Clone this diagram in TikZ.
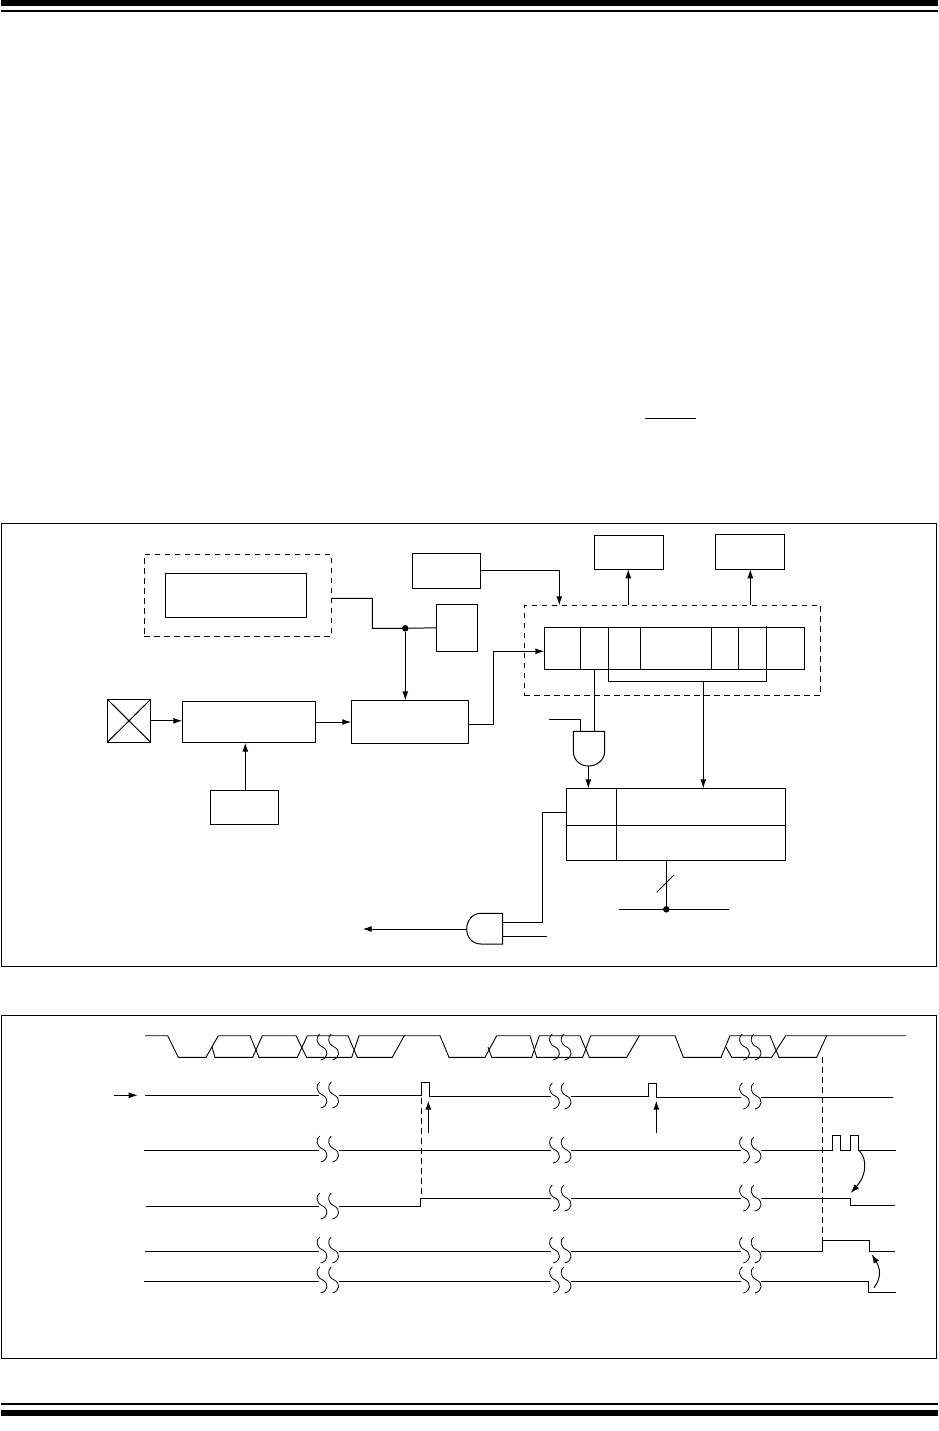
\documentclass[tikz,border=0pt]{standalone}
\usepackage{tikz}
\usepackage{xcolor}
\usetikzlibrary{calc,arrows.meta,positioning}
\tikzset{
  blockbox/.style 2 args={draw,line width=1pt,inner sep=0pt,outer sep=0pt,minimum width=#1,minimum height=#2},
  longdash/.style={dash pattern=on 5.5pt off 4.5pt},
  sig/.style={line width=1pt},
  sigarrow/.style={line width=1pt,-{Latex[length=9pt,width=6pt]}},
  junction/.style={circle,fill=black,inner sep=0pt,outer sep=0pt,minimum size=6.5pt},
  wave/.style={line width=.9pt,line join=miter},
  cutline/.style={line width=.8pt},
  bar/.style={fill=black,draw=none}
}
\newcommand{\wavecut}[2]{\draw[cutline] (#1-8.8,#2-13) .. controls (#1-12.8,#2-10) and (#1-12.8,#2-3) .. (#1-5.8,#2) .. controls (#1+.2,#2+3) and (#1+.2,#2+11) .. (#1-7.8,#2+13);
\draw[cutline] (#1+2.8,#2-13) .. controls (#1-1.2,#2-10) and (#1-1.2,#2-3) .. (#1+5.8,#2) .. controls (#1+11.8,#2+3) and (#1+11.8,#2+11) .. (#1+3.8,#2+13);}
\newcommand{\wavegap}[2]{\fill[white] (#1-10,#2-4) rectangle (#1+10,#2+4);\wavecut{#1}{#2}}
\def\wavehi{1035.7}
\def\wavelo{1057.3}
\begin{document}
\begin{tikzpicture}[x=1pt,y=-1pt]
\useasboundingbox (0,0) rectangle (938,1431);
\fill[bar] (1,0) rectangle (938,6);
\fill[bar] (1,9.7) rectangle (938,12);
\fill[bar] (1,1403) rectangle (938,1405);
\fill[bar] (1,1410) rectangle (938,1416);
\draw[line width=1pt] (645,418) -- (696,418);
\draw[line width=1pt] (1.5,523) rectangle (936.5,966);
\draw[line width=1pt] (1.5,1015) rectangle (936.5,1358);

\node[blockbox={187pt}{82pt},longdash] (osczone) at (237.8,595.3) {};
\node[blockbox={141.4pt}{44pt}] (oscbox) at (236,595.3) {};
\node[blockbox={68.4pt}{35pt}] (selbox) at (446.5,570.8) {};
\node[blockbox={41.4pt}{47pt}] (tapbox) at (457,627.8) {};
\node[blockbox={43.4pt}{43pt}] (pinbox) at (129,720.8) {};
\node[blockbox={133pt}{40.6pt}] (scalebox) at (248.8,722) {};
\node[blockbox={117.4pt}{43pt}] (syncbox) at (410,721.8) {};
\node[blockbox={68pt}{34pt}] (ctlbox) at (244.3,807.3) {};
\node[blockbox={69pt}{34pt}] (outboxa) at (628.8,552.3) {};
\node[blockbox={69pt}{35pt}] (outboxb) at (749.8,551.8) {};
\node[blockbox={296.4pt}{90pt},longdash] (regzone) at (672.5,650.3) {};
\node[blockbox={260.4pt}{42pt}] (regbox) at (674.5,648.3) {};
\node[blockbox={219.4pt}{72pt}] (latchbox) at (676,824.3) {};
\node[junction] (tapdot) at (405.3,628.3) {};
\node[junction] (busdot) at (666.3,909.3) {};

\draw[line width=1pt] (pinbox.north west) -- (pinbox.south east);
\draw[line width=1pt] (pinbox.south west) -- (pinbox.north east);
\draw[sig] (580.3,627.3) -- (580.3,669.3);
\draw[sig] (608.3,627.3) -- (608.3,669.3);
\draw[sig] (640.3,627.3) -- (640.3,669.3);
\draw[sig] (711.3,627.3) -- (711.3,669.3);
\draw[sig] (738.3,627.3) -- (738.3,669.3);
\draw[sig] (766.3,625.7) -- (766.3,669.3);
\draw[sig] (566.3,825.3) -- (785.7,825.3);
\draw[sig] (616.3,788.3) -- (616.3,860.3);

\coordinate (dashout) at (331.3,598.3);
\coordinate (regtap) at (594.3,669.3);
\coordinate (bracket) at (703.3,681.3);
\coordinate (andtopa) at (594.3,731.3);
\coordinate (andina) at (580.3,731.3);
\coordinate (andouta) at (588.3,766);
\coordinate (andoutb) at (466.7,929);
\coordinate (freeout) at (362.7,929);
\coordinate (freeina) at (549,719.3);
\coordinate (freeinb) at (546.7,936.3);
\coordinate (andinb) at (502.7,936.3);
\coordinate (andinc) at (502.7,922.3);
\coordinate (busleft) at (619,909.3);
\coordinate (busright) at (729,909.3);

\draw[sig] (dashout) -- (372.3,598.3) -- (372.3,628.3) -- (tapdot) -- (tapbox.west);
\draw[sigarrow] (tapdot) -- (405.3,700.3);
\draw[sigarrow] (pinbox.east) -- (pinbox.east -| scalebox.west);
\draw[sigarrow] (scalebox.east) -- (scalebox.east -| syncbox.west);
\draw[sigarrow] (ctlbox.north) ++(1,0) -- ++(0,-47.6);
\draw[sigarrow] (syncbox.east) ++(0,2.5) -| (493.3,651.3) -- (regbox.west |- 0,651.3);
\draw[sigarrow] (selbox.east) -- (559.3,570.8) -- (559.3,605.3);
\draw[sigarrow] (628.3,605.3) -- (628.3,569.3);
\draw[sigarrow] (750.3,605.3) -- (750.3,569.3);

\draw[sig] (608.3,669.3) -- (608.3,681.3) -- (766.3,681.3) -- (766.3,669.3);
\draw[sigarrow] (bracket) -- (703.3,788.3);
\draw[sig] (regtap) -- (andtopa);
\draw[sig] (freeina) -- (580.3,719.3) -- (andina);
\draw[sig] (573.3,731.3) -- (604.7,731.3) -- (604.7,751) .. controls (604.7,760) and (597,766) .. (andouta) .. controls (580,766) and (573.3,760) .. (573.3,751) -- cycle;
\draw[sigarrow] (andouta) -- (588.3,788.3);
\draw[sig] (latchbox.west |- 0,812.3) -- (542.3,812.3) -- (542.3,922.3) -- (andinc);
\draw[sig] (andinb) -- (freeinb);
\draw[sig] (502.7,913.3) -- (502.7,944) -- (481,944) .. controls (472,944) and (466.7,937) .. (andoutb) .. controls (466.7,921) and (472,913.3) .. (481,913.3) -- cycle;
\draw[sigarrow] (andoutb) -- (freeout);
\draw[sig] (666.3,860.3) -- (busdot);
\draw[sig] (656.7,892.3) -- (674,875);
\draw[sig] (busleft) -- (busright);

\draw[wave] (145,\wavehi) -- (167.7,\wavehi) -- (178.3,\wavelo) -- (206,\wavelo) -- (218.3,\wavehi) -- (250,\wavehi) -- (259,\wavelo) -- (297.3,\wavelo) -- (307.3,\wavehi) -- (348,\wavehi) -- (357.3,\wavelo) -- (392.3,\wavelo) -- (404.3,\wavehi) -- (440,\wavehi) -- (449,\wavelo) -- (485,\wavelo) -- (496.7,\wavehi) -- (530,\wavehi) -- (536.7,\wavelo) -- (582.7,\wavelo) -- (590.7,\wavehi) -- (675,\wavehi) -- (683.3,\wavelo) -- (721,\wavelo) -- (730,\wavehi) -- (770,\wavehi) -- (779,\wavelo) -- (816.7,\wavelo) -- (826.7,\wavehi) -- (906,\wavehi);
\draw[wave] (212,1047) -- (215,\wavelo) -- (252.7,\wavelo) -- (262.3,\wavehi) -- (296,\wavehi) -- (306.7,\wavelo) -- (351.7,\wavelo) -- (359,\wavehi) -- (404.3,\wavehi);
\draw[wave] (488,1047) -- (491.7,\wavelo) -- (531.7,\wavelo) -- (539.3,\wavehi) -- (580,\wavehi) -- (589.3,\wavelo) -- (626.7,\wavelo) -- (639.3,\wavehi);
\draw[wave] (726,1047) -- (731.7,\wavelo) -- (771.7,\wavelo) -- (785.7,\wavehi) -- (826.7,\wavehi);

\draw[wave] (145,1095.3) -- (421.7,1095.3) -- (421.7,1082.3) -- (429.3,1082.3) -- (429.3,1096.3) -- (648.3,1096.3) -- (648.3,1083.3) -- (656.3,1083.3) -- (656.3,1097.3) -- (892.7,1097.3);
\draw[wave] (144,1150.3) -- (832.3,1150.3) -- (832.3,1135.3) -- (840.7,1135.3) -- (840.7,1150.3) -- (850,1150.3) -- (850,1135.3) -- (858.7,1135.3) -- (858.7,1150.3) -- (896,1150.3);
\draw[wave] (146,1206.3) -- (420.3,1206.3) -- (420.3,1198.3) -- (850.7,1198.3) -- (850.7,1205.3) -- (895,1205.3);
\draw[wave] (145,1251) -- (822.7,1251) -- (822.7,1240) -- (869.3,1240) -- (869.3,1251) -- (895,1251);
\draw[wave] (144,1281.3) -- (868.7,1281.3) -- (868.7,1292.3) -- (896,1292.3);

\draw[sig,longdash] (421.3,1098) -- (421.3,1198);
\draw[sig,longdash] (822.3,1057) -- (822.3,1240);
\draw[sigarrow] (114,1095.3) -- (137.7,1095.3);
\draw[sigarrow] (428.3,1133.3) -- (428.3,1100.7);
\draw[sigarrow] (656.3,1133.3) -- (656.3,1100.7);
\draw[sigarrow] (859.3,1150.7) .. controls (868,1160) and (866,1176) .. (850.7,1193);
\draw[sigarrow] (874,1287.7) .. controls (882,1277) and (880,1268) .. (871.7,1254.3);

\wavecut{328.5}{1047}
\wavecut{561}{1047}
\wavecut{751}{1047}
\wavegap{328.5}{1095}
\wavegap{561}{1096}
\wavegap{751}{1096}
\wavegap{328.5}{1149}
\wavegap{561}{1150}
\wavegap{751}{1150}
\wavegap{328.5}{1206}
\wavegap{561}{1198}
\wavegap{751}{1198}
\wavegap{328.5}{1250}
\wavegap{561}{1250}
\wavegap{751}{1250}
\wavegap{328.5}{1280}
\wavegap{561}{1280}
\wavegap{751}{1280}
\end{tikzpicture}
\end{document}
